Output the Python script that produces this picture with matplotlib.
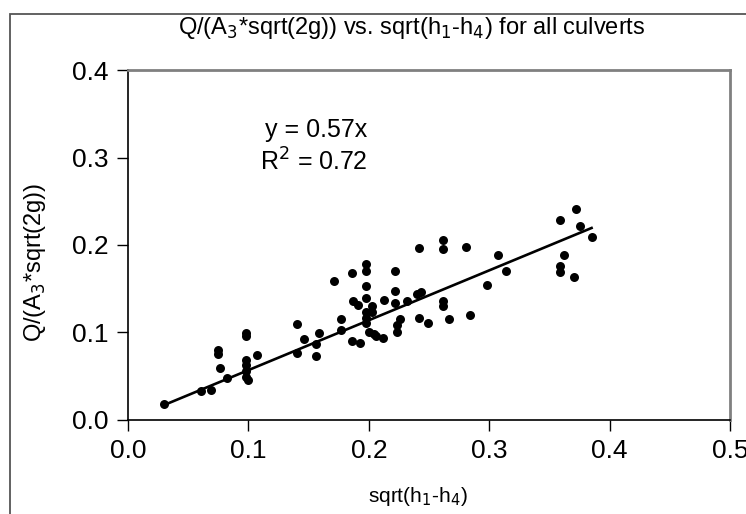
import matplotlib
matplotlib.use("Agg")
import numpy as np
import matplotlib.pyplot as plt
from matplotlib.patches import Rectangle

# sqrt(h1-h4) vs Q/(A3*sqrt(2g))
x_vals = [0.030, 0.061, 0.069, 0.075, 0.075, 0.076, 0.082, 0.098, 0.098, 0.098,
          0.098, 0.098, 0.098, 0.100, 0.107, 0.140, 0.140, 0.146, 0.156, 0.156,
          0.159, 0.171, 0.177, 0.177, 0.186, 0.186, 0.193, 0.187, 0.191, 0.198,
          0.198, 0.198, 0.198, 0.198, 0.198, 0.198, 0.200, 0.203, 0.203, 0.204,
          0.206, 0.212, 0.213, 0.222, 0.222, 0.222, 0.226, 0.223, 0.223, 0.232,
          0.240, 0.243, 0.242, 0.242, 0.249, 0.262, 0.262, 0.262, 0.262, 0.267,
          0.281, 0.284, 0.298, 0.307, 0.314, 0.359, 0.362, 0.359, 0.359, 0.370,
          0.372, 0.375, 0.385]
y_vals = [0.018, 0.033, 0.034, 0.080, 0.075, 0.059, 0.048, 0.099, 0.096, 0.068,
          0.063, 0.056, 0.049, 0.046, 0.074, 0.110, 0.076, 0.092, 0.087, 0.073,
          0.099, 0.159, 0.115, 0.103, 0.168, 0.090, 0.088, 0.136, 0.131, 0.178,
          0.170, 0.153, 0.139, 0.123, 0.117, 0.111, 0.101, 0.130, 0.123, 0.098,
          0.096, 0.094, 0.137, 0.170, 0.147, 0.134, 0.115, 0.109, 0.101, 0.136,
          0.144, 0.146, 0.196, 0.117, 0.111, 0.206, 0.195, 0.136, 0.130, 0.115,
          0.198, 0.120, 0.154, 0.188, 0.170, 0.228, 0.188, 0.176, 0.169, 0.163,
          0.241, 0.222, 0.209]

# trendline through the origin
slope = 0.57
r2 = 0.72
fit_x = np.array([0.030, 0.385])

x_ticks = [0.0, 0.1, 0.2, 0.3, 0.4, 0.5]
y_ticks = [0.0, 0.1, 0.2, 0.3, 0.4]

plt.rcParams["font.family"] = ["Liberation Sans", "DejaVu Sans"]

fig = plt.figure(figsize=(7.46, 5.14), dpi=100)
ax = fig.add_axes([0.1716, 0.1829, 0.8070, 0.6809])

ax.scatter(x_vals, y_vals, s=42, color="black", zorder=3, linewidths=0)
ax.plot(fit_x, slope * fit_x, color="black", linewidth=1.9, zorder=2)

ax.set_xlim(0, 0.5)
ax.set_ylim(0, 0.4)
ax.set_xticks(x_ticks)
ax.set_yticks(y_ticks)
ax.set_xticklabels([f"{v:.1f}" for v in x_ticks])
ax.set_yticklabels([f"{v:.1f}" for v in y_ticks])
ax.tick_params(axis="both", direction="out", length=8, width=1.0,
               labelsize=19, pad=6)
ax.tick_params(axis="x", pad=6)

for side in ("left", "bottom"):
    ax.spines[side].set_color("black")
    ax.spines[side].set_linewidth(1.2)
for side in ("top", "right"):
    ax.spines[side].set_color("#808080")
    ax.spines[side].set_linewidth(2.0)

ax.text(0.114, 0.331, f"y = {slope:.2f}x", fontsize=18, ha="left", va="center")
ax.text(0.110, 0.295, f"R$^2$ = {r2:.2f}", fontsize=18, ha="left", va="center")

fig.text(412 / 746, 1 - 28 / 514,
         r"Q/(A$_3$*sqrt(2g)) vs. sqrt(h$_1$-h$_4$) for all culverts",
         ha="center", va="center", fontsize=17)
fig.text(418 / 746, 1 - 497 / 514, r"sqrt(h$_1$-h$_4$)",
         ha="center", va="center", fontsize=15)
fig.text(35 / 746, 1 - 262 / 514, r"Q/(A$_3$*sqrt(2g))",
         ha="center", va="center", fontsize=17, rotation=90)

# outer chart-area frame, cut off at the right and bottom edges
fig.patches.append(Rectangle((10 / 746, -0.05), 1.0, 1 - 14 / 514 + 0.05,
                             transform=fig.transFigure, fill=False,
                             edgecolor="#555555", linewidth=1.3))

fig.savefig("out.png", dpi=100)
